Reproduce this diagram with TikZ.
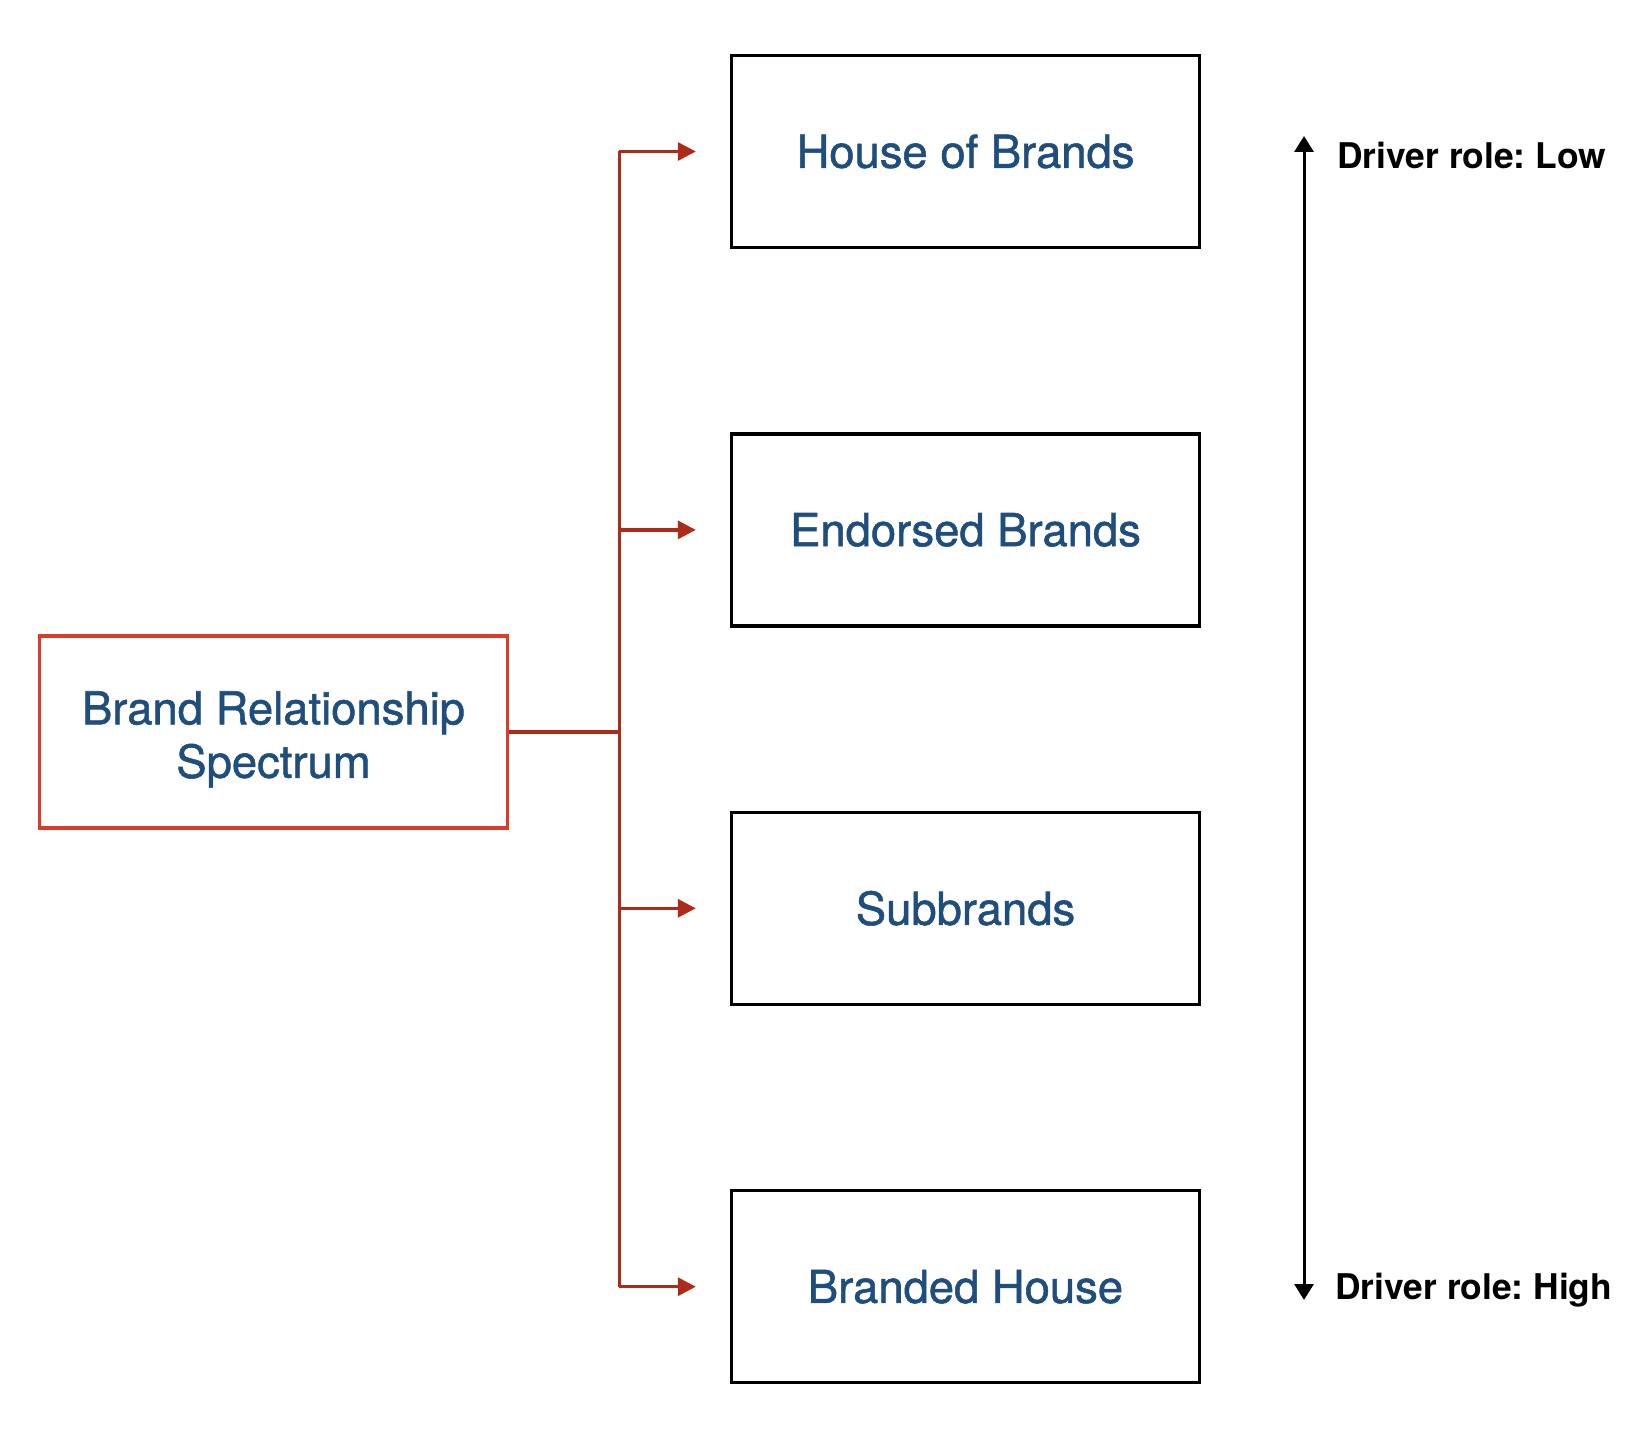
\documentclass[tikz,border=0pt]{standalone}
\usepackage{fontspec}
\setmainfont{TeX Gyre Heros}
\usetikzlibrary{arrows.meta, positioning, calc}

\definecolor{brandblue}{HTML}{1F4E7D}
\definecolor{spectrumred}{HTML}{DC3B2A}
\definecolor{linkred}{HTML}{AE2A1A}

\begin{document}
\frenchspacing
\begin{tikzpicture}[
  x=0.5pt, y=-0.5pt,
  font=\fontsize{22.7}{26.7}\selectfont\addfontfeature{FakeBold=1.2},
  box/.style={draw=black, line width=1.7pt, align=center, inner sep=0pt,
              minimum width=234pt, minimum height=96pt, text=brandblue},
  root/.style={box, draw=spectrumred},
  wire/.style={line width=1.6pt, color=linkred},
  arr/.style={wire, -{Triangle[length=9pt, width=9pt]}},
  roleaxis/.style={line width=1.5pt, {Triangle[length=8pt, width=9.5pt]}-{Triangle[length=8pt, width=9.5pt]}},
  side/.style={anchor=west, inner sep=0pt, font=\fontsize{17.7}{21}\selectfont\bfseries}
]
\useasboundingbox (0,0) rectangle (1642,1438);
\node[box] (house) at (965.5,151.5) {House of Brands};
\node[box, below=91.5pt of house] (endorsed) {Endorsed Brands};
\node[box, below=91.5pt of endorsed] (sub) {Subbrands};
\node[box, below=91.5pt of sub] (branded) {Branded House};
\node[root] (brs) at (273.5,732) {\rule{0pt}{24pt}Brand Relationship\\Spectrum};
% bus between the spectrum box and the four strategies
\coordinate (split) at ($(brs.east)+(55pt,0)$);
\draw[wire] (brs.east) -- (split);
\draw[wire] (split |- house.west) -- (split |- branded.west);
\foreach \n in {house, endorsed, sub, branded}
  \draw[arr] (split |- \n.west) -- ([xshift=-17pt]\n.west);
% driver role axis
\coordinate (top) at (1304,136);
\coordinate (bot) at (1304,1300);
\draw[roleaxis] (bot) -- (top);
\node[side] (low) at (1337,155) {Driver role: Low};
\node[side] (high) at (1335,1290) {Driver role: High};
\end{tikzpicture}
\end{document}
